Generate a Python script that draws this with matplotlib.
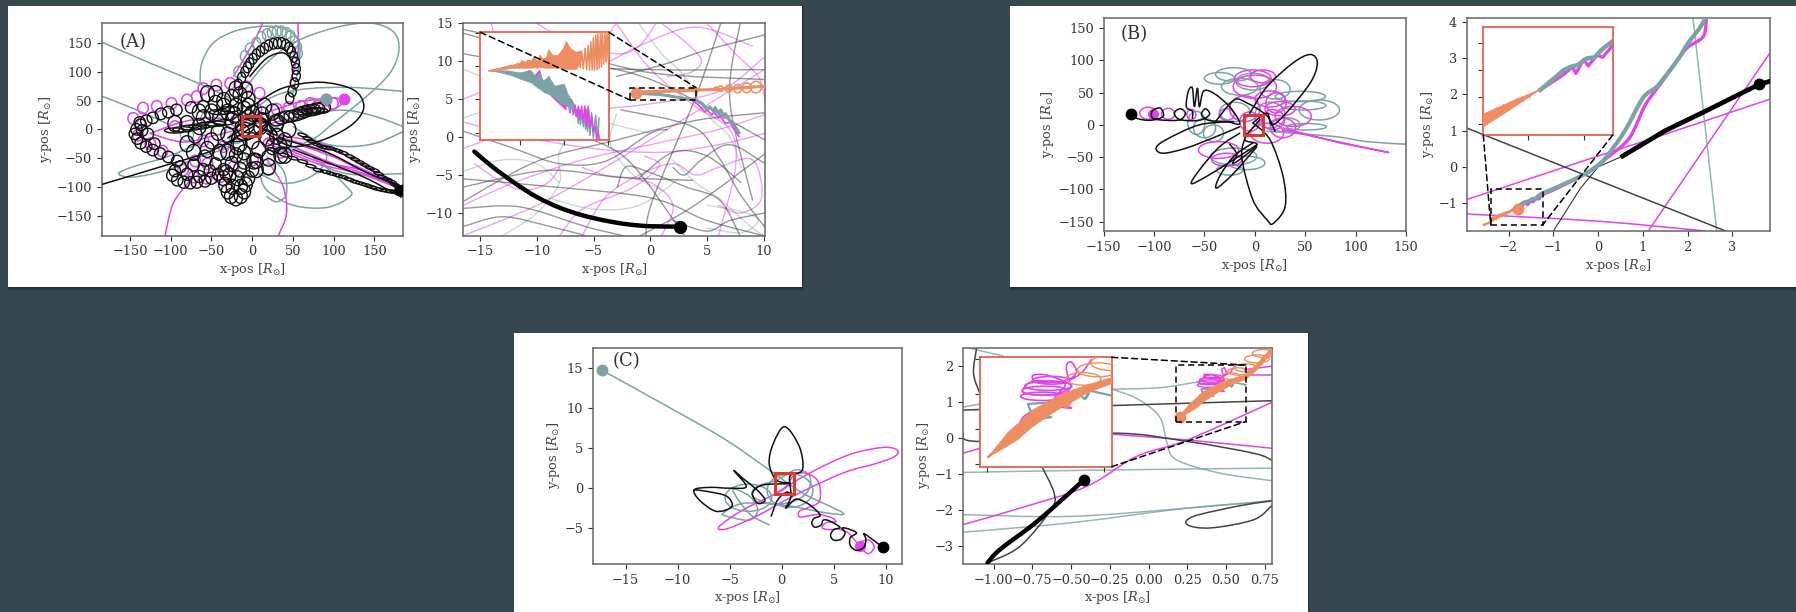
import matplotlib
matplotlib.use("Agg")
import matplotlib.pyplot as plt
from matplotlib.patches import Ellipse, Rectangle, ConnectionPatch, PathPatch
from matplotlib.path import Path

plt.rcParams["font.family"] = ["DejaVu Serif"]
plt.rcParams["mathtext.fontset"] = "dejavuserif"
plt.rcParams["font.size"] = 9.3
plt.rcParams["text.color"] = "#333333"
plt.rcParams["xtick.labelcolor"] = "#333333"
plt.rcParams["ytick.labelcolor"] = "#333333"

W, H = 1796, 612
BG = "#37474f"
TEAL = "#7ba3a5"
MAG = "#e243ea"
ORG = "#ee8d62"
RED = "#d93a2b"
INSET_RED = "#e8604e"
DARK = "#111111"

# ---- panel A, left: loop chains (centre x, centre y), sizes per chain
a_arch_x = [-17, -13, -9, -6, -3, 1, 5, 10, 15, 20, 26, 31, 36, 41, 45, 48, 51, 53, 54, 54, 52, 49, 46]
a_arch_y = [78, 90, 100, 108, 115, 123, 130, 136, 141, 146, 149, 150, 150, 147, 142, 135, 126, 116, 105, 93, 80, 66, 54]
a_left_x = [-60, -75, -93, -103, -112, -122, -130, -137, -142, -144, -141, -137, -130, -122, -113, -103, -92, -138, -135, -128, -120]
a_left_y = [40, 38, 34, 30, 27, 20, 15, 8, 0, -8, -16, -24, -30, -36, -42, -48, -55, 12, -2, -8, -25]
a_low_x = [-95, -98, -92, -84, -76, -68, -58, -50, -42, -35, -60, -45, -88, -72, -80, -52, -65]
a_low_y = [-72, -80, -88, -92, -93, -92, -90, -85, -78, -70, -70, -60, -65, -62, -78, -72, -82]
a_bot_x = [-35, -33, -30, -26, -20, -14, -10, -8, -5, 0, 5, -15, -25, -20, -10, -32, -24, -14, -28, -18]
a_bot_y = [-85, -97, -108, -116, -120, -116, -108, -96, -85, -70, -55, -70, -60, -45, -40, -75, -100, -100, -80, -85]
a_right_x = [87, 80, 75, 70, 65, 60, 54, 48, 42, 36, 30]
a_right_y = [38, 36, 34, 33, 31, 28, 25, 23, 22, 19, 16]
a_mid_x = [-45, -35, -25, -15, -5, -50, -40, -30, -60, -20, -10, -25, -30, -50, -70, -65, -80, -95, -80, 25, 40, 30, 45, 12, 20, 35, -5, 0, -15, 10, 25, 40, -40, -55, -10, 5,
           -55, -45, -35, -20, -8, 15, -65, -5, 0, 12, 18, 30, -30, -18, 8, -42, -58, -72, -12, 2, 20, 34, -6, -22]
a_mid_y = [45, 50, 55, 60, 52, 30, 20, 30, 20, 40, 35, 15, -10, -20, -10, 5, -25, 10, 10, -30, -20, 10, 0, 25, -50, -45, 20, -20, -25, 5, 30, -45, -40, -35, -55, -70,
           62, 62, 40, 70, 68, 40, 30, 40, 28, 15, -15, -12, -40, -30, -35, -5, -50, -40, -5, -55, -65, -28, 8, 25]
a_flat_x = [-95, -85, -75, -65, -55, -45, -35, 62, 70, 76, 80, -40, -28]
a_flat_y = [-2, 0, 3, 5, 8, 10, 12, 30, 32, 33, 33, 30, 35]
a_band1_x = [62, 68, 73, 79, 85, 91, 97, 105, 112, 120, 126, 132, 138, 144, 150, 155, 160, 166, 171, 175, 179, 182]
a_band1_y = [-10, -16, -21, -26, -30, -32, -33, -37, -41, -47, -52, -57, -62, -67, -71, -77, -83, -87, -91, -96, -100, -103]
a_band2_x = [25, 40, 50, 62, 72, 81, 90, 97, 105, 112, 119, 126, 133, 140, 146, 152, 158, 165, 170, 175, 179, 183]
a_band2_y = [-35, -45, -50, -56, -64, -71, -74, -77, -80, -83, -87, -91, -94, -97, -100, -103, -105, -107, -108, -109, -110, -111]
a_tip_x = [175, 185, 185, 178]
a_tip_y = [-104, -97, -116, -114]
a_magloop_x = [-146, -134, -117, -99, -80, -68, -60, -44, -27, -7, 9, -85, -72, -56, -40, -23, 1, 71, 91, 99, 30, 45, 60, 80, -140, -125, -110, -70, -55, -35, 20, 35, -20, 5, -95, -60]
a_magloop_y = [19, 37, 40, 45, 51, 57, 71, 77, 80, 74, 63, -71, -83, -85, -83, -65, -53, 45, 51, 45, 35, 38, 40, 40, -10, -25, -38, -55, -60, -30, -25, -40, 15, 35, 5, -20]
a_tealloop_x = [-17, -9, -3, 5, 11, 18, 24, 30, 36, 42, 47, 52, 55, 56]
a_tealloop_y = [100, 127, 140, 150, 160, 165, 168, 170, 170, 167, 162, 153, 143, 132]
a_tealmid_x = [-30, -10, 20, 40, -55, -40, -20, 5, 30, 60, 75, -80, -15]
a_tealmid_y = [-40, -85, -70, -30, 20, 0, -15, 20, 10, 30, 44, -10, -50]

a_teal = [
    ([-185, -125, -64, -23], [152, 115, 79, 51]),
    ([-185, -142, -105], [58, 34, 10]),
    ([-64, -62, -48, -23, 9, 38, 56, 58, 50], [79, 115, 150, 170, 179, 176, 156, 121, 63]),
    ([-15, 13, 50, 99, 144, 173, 180, 169, 140, 99, 79, 54], [57, 109, 150, 176, 185, 170, 138, 98, 57, 10, -13, -30]),
    ([-23, 18, 58, 120, 185], [-1, 51, 69, 73, 66]),
    ([185, 152, 116, 79, 26], [5, 22, 33, 28, 5]),
    ([185, 152, 116, 83, 50], [-4, -24, -30, -22, 5]),
    ([-64, -105, -146, -164, -146, -105, -64, -23], [-24, -48, -65, -77, -83, -71, -48, -30]),
    ([34, 79, 116, 120, 91, 50, 18, 9], [-19, -53, -100, -117, -136, -132, -106, -77]),
    ([185, 120, 79], [-77, -78, -59]),
    ([18, 38, 42, 30, 18], [-48, -71, -112, -126, -117]),
    ([9, 38, 71, 91, 83], [-77, -94, -83, -53, -19]),
]
a_mag = [
    ([13, 1, -23], [185, 150, 92]),
    ([56, 56, 46], [185, 133, 80]),
    ([-107, -97, -76], [-185, -129, -88]),
    ([32, 42, 38, 18], [-185, -147, -100, -53]),
    ([18, 79, 132, 179, 132, 83, 18], [-24, -59, -77, -100, -59, -24, -7]),
    ([18, 79, 132, 179, 125, 83, 30], [-18, -55, -70, -98, -65, -35, -12]),
    ([50, 100, 140, 178, 140, 100, 60], [-30, -60, -78, -101, -72, -48, -28]),
    ([-125, -85, -45, -10, -45, -85, -125], [-7, 13, 20, 5, -10, -22, -7]),
    ([-15, 10, 40, 60, 100, 110, 90, 50, 10], [10, 25, 40, 48, 55, 45, 30, 20, 5]),
]
a_black = [
    ([-185, -105, -48, 1], [-96, -62, -36, 5]),
    ([-26, 5, 38, 83, 124, 137, 124, 91, 50, 18], [15, 45, 72, 82, 69, 40, 10, -16, -30, -7]),
    ([-3, 18, 38, 50], [92, 124, 133, 118]),
    ([-30, 10, 30, -10, -25, 5, 22, -5, -20, 12, 25], [-15, 15, -10, 12, -20, -12, 18, -18, 10, 20, -5]),
    ([50, 100, 140, 183], [-35, -62, -85, -118]),
    ([30, 70, 100, 140, 183], [-15, -30, -45, -75, -100]),
]

# ---- panel A, right: faint orbits behind the zoom
a2_grey = [
    ([-16.5, -8, 0, 10], [14.2, 11.5, 8.5, 7.6]),
    ([-16.5, -10, 0, 10], [11, 9.5, 8.9, 8.9]),
    ([-16.5, -9.2, -2.7, 3.7], [-6.6, -4.4, -5.3, -5.7]),
    ([-16.5, -11.5, -5.7, -2.4], [-9.4, -9.2, -11.8, -13]),
    ([-16.5, -13, -8.8, -5.7], [-11.8, -10.5, -11.8, -13]),
    ([-2.9, -2.1, 0.2, 3.2, 6.1, 7.9], [-6.6, -3.9, -4.8, -6.6, -8.3, -13]),
    ([6.2, 4, 0.2, -0.4], [15, 5.3, -8.3, -13]),
    ([7.9, 7, 9], [15, 4.9, -8.3]),
    ([-16.5, -10, -3, 4, 10], [-8.5, -3.2, -0.4, 2.2, 3.2]),
    ([-16.5, -8.6, 0.2, 10.1], [13.7, 10.6, 7.5, -0.4]),
    ([-2.6, 3.7, 6, 7.9, 10.1], [3.6, 1.4, -2.6, -7.5, -11.9]),
    ([-0.9, 3.7, 10.1], [-13, -9.2, -2.2]),
    ([-16.5, -12, -8, -4, 0, 1.5], [0.8, -1.5, -3.5, -3.2, 0.5, 1]),
    ([-1, 2, 5, 8], [-5.4, -2, -2.5, -6]),
    ([-12, -7, -2, 3], [6.5, 1, -3, -13]),
    ([2, 5, 7, 10.1], [-11, -12.4, -11, -10]),
    ([-16.5, -9, 0, 5, 10], [-5.5, -6.5, -8, -11, -13]),
    ([-3, 1, 5, 10.1], [8, 9.5, 11.5, 13.5]),
    ([2, 3, 4.5, 7, 10.1], [-4, -5, -3, -1, -3.5]),
]
a2_mag = [
    ([-16.5, -8, 0, 6, 10], [-1.5, 2.8, 4.4, 6, 10.5]),
    ([-16.5, -12, -6, 0, 6, 10.1], [-9, -6, -3, -1, 1, 3]),
    ([-14, -13, -10, -6, -1, 4, 9], [15, 10, 6, 8, 12, 14.5, 12]),
    ([-6, -4, -1, 2, 4, 6, 9, 9.8, 8, 6], [-13, -8, -5, -3.5, -5, -4, -3, -8, -10, -9]),
    ([-16.5, -10, -4, 2, 8, 10.1], [-13, -9, -4, 1.5, 7, 9]),
    ([-3, 0, 4, 7, 7.5, 6], [15, 9, 4, 1, -4, -13]),
    ([-15.5, -13, -11, -9, -8], [-3.5, -6, -7, -6, -4]),
    ([-10, -7, -3, -1, 0.5], [15, 12.5, 11, 12, 15]),
    ([1, 2, 0, -4, -6], [-13, -9, -6, -5, -4]),
    ([-16.5, -12, -8, -6, -4, -3], [5, 7.5, 8, 10, 13, 15]),
    ([-16.5, -11, -5, 1, 6, 10.1], [2, 0, -1.5, -2, -1, 0.5]),
    ([1, 3.5, 4.5, 3.5, 1.5], [15, 12, 10, 8.5, 8]),
    ([5, 7.5, 9.5, 10.1], [15, 11, 8, 5]),
    ([-8, -6, -2, 0, 0.8, -0.5], [-13, -9.5, -7, -5, -3.5, -2.5]),
]
a2_teal = [
    ([-16.5, -10, -4, 0], [9, 5, 2, 0.5]),
    ([-13, -10, -8, -8, -6], [-13, -10, -6, -2, 3]),
    ([2, 4, 6, 7.5, 9, 10], [-3, -6, -8, -10, -12, -13]),
    ([-1, 1, 3, 5, 7, 8], [15, 11, 8, 3, 0, -4]),
    ([-16.5, -14, -10, -6], [2.5, 4, 8, 12.5]),
    ([5, 8, 9.5, 8, 5], [-9, -9.8, -11, -12.6, -12]),
    ([-9, -5, -1, 2.5], [-8, -9.5, -9, -5.5]),
    ([-3, -3.5, -1.5, 1], [3, -1, -5, -7]),
    ([-16.5, -13, -10, -8], [-4.5, -3, -3.5, -6]),
]
a2_black_x = [-15.5, -14, -12, -10, -8, -6, -4, -2, 0, 2.65]
a2_black_y = [-1.9, -3.8, -6, -7.9, -9.3, -10.3, -11, -11.5, -11.75, -11.8]
a2_org_x = [-1.39, -0.83, -0.37, -0.22, -0.10, 0.0, 0.11, 0.23, 0.38, 0.53, 0.64, 0.81, 0.93, 1.06, 1.21, 1.32, 1.47, 1.74, 1.97, 2.12, 2.27, 2.42, 2.65, 2.74, 2.80, 2.88, 2.96, 3.03, 3.10, 3.16, 3.22, 3.28, 3.33, 3.39, 3.44, 3.50, 3.53, 3.60, 3.65, 3.70, 3.74, 3.80, 3.86, 3.90, 3.95, 4.00, 4.04]
a2_org_y = [5.93, 5.97, 6.01, 5.97, 6.04, 5.97, 6.08, 5.97, 6.08, 5.98, 6.13, 5.97, 6.16, 5.99, 5.98, 6.24, 6.0, 5.97, 6.23, 6.36, 6.21, 5.97, 6.16, 5.98, 6.23, 5.96, 6.27, 5.95, 6.31, 5.94, 6.37, 5.94, 6.43, 5.94, 6.47, 5.95, 6.51, 5.97, 6.51, 5.99, 6.51, 6.03, 6.51, 6.06, 6.51, 6.09, 6.51]
a2_orgfill_x = [-1.39, -0.37, 0.0, 0.11, 0.28, 0.38, 0.53, 0.64, 0.81, 0.93, 1.06, 1.21, 1.32, 1.52, 1.74, 1.97, 2.12, 2.32, 2.57, 2.80, 2.80, 2.57, 2.20, 1.82, 1.52, 1.21, 0.91, 0.53, 0.08, -0.37, -0.98]
a2_orgfill_y = [5.93, 6.01, 6.04, 6.08, 6.06, 6.09, 6.08, 6.13, 6.08, 6.16, 6.11, 6.13, 6.24, 6.16, 6.16, 6.26, 6.36, 6.26, 6.21, 6.23, 6.08, 5.95, 5.95, 5.97, 5.97, 5.97, 5.98, 5.97, 5.97, 5.97, 5.93]
a2_teal_x = [2.42, 2.50, 2.53, 2.60, 2.65, 2.70, 2.75, 2.80, 2.88, 2.93, 2.98, 3.03, 3.07, 3.12, 3.18, 3.25, 3.33, 3.44, 3.53, 3.59]
a2_teal_y = [5.45, 5.32, 5.25, 5.35, 5.14, 5.35, 5.12, 5.35, 5.09, 5.35, 5.05, 5.35, 5.02, 5.33, 4.96, 5.30, 4.92, 5.26, 4.89, 5.22]
a2_tealfill_x = [-1.39, -0.53, 0.0, 0.53, 0.76, 0.91, 1.06, 1.34, 1.59, 2.02, 2.2, 2.42, 2.42, 1.82, 1.52, 1.14, 0.84, 0.53, 0.08, -0.37, -0.98]
a2_tealfill_y = [5.93, 5.93, 5.90, 5.93, 5.83, 5.90, 5.78, 5.83, 5.70, 5.73, 5.57, 5.45, 5.35, 5.45, 5.55, 5.60, 5.67, 5.75, 5.80, 5.86, 5.91]
a2_mag_x = [2.08, 2.17, 2.27, 2.35, 2.42, 2.50, 2.58, 2.65, 2.72, 2.80, 2.88, 2.95, 3.03, 3.10, 3.18, 3.26, 3.33, 3.41, 3.48, 3.55, 3.63]
a2_mag_y = [5.35, 5.57, 5.30, 5.50, 5.27, 5.42, 5.24, 5.40, 5.20, 5.40, 5.15, 5.40, 5.10, 5.40, 5.07, 5.25, 5.02, 5.10, 4.91, 5.0, 4.89]
a2_magfill_x = [-0.37, 0.08, 0.46, 0.61, 0.91, 1.06, 1.34, 1.52, 1.82, 2.08, 2.08, 1.74, 1.37, 0.99, 0.61, 0.23, -0.37]
a2_magfill_y = [5.90, 5.88, 5.94, 5.83, 5.94, 5.75, 5.85, 5.62, 5.60, 5.42, 5.35, 5.45, 5.57, 5.69, 5.75, 5.80, 5.88]
a2_orgtail_x = [4.04, 6, 8, 10]
a2_orgtail_y = [6.2, 6.3, 6.5, 6.7]
a2_orgloop_x = [5.8, 6.2, 6.9, 7.7, 8.5, 9.3]
a2_orgloop_y = [6.35, 6.4, 6.4, 6.4, 6.5, 6.6]
a2_orgloop_w = [0.4, 0.5, 0.6, 0.7, 0.8, 1.0]
a2_orgloop_h = [0.5, 0.7, 0.9, 1.1, 1.3, 1.5]
a2_tealtail_x = [-1.3, 1, 3, 4.04, 4.6, 5.0, 5.2, 5.6, 5.7, 6.0, 6.2, 6.5, 6.6, 7, 7.4, 7.8]
a2_tealtail_y = [5.8, 5.6, 5.1, 4.89, 4.4, 3.6, 4.0, 3.4, 3.9, 3.1, 3.6, 2.6, 3.1, 2.2, 1.6, 0.6]
a2_magtail_x = [3.59, 4.2, 4.8, 5, 5.4, 5.6, 6, 6.1, 6.6, 7, 7.3, 7.8]
a2_magtail_y = [4.89, 4.3, 3.3, 3.6, 2.9, 3.3, 2.5, 2.9, 1.8, 2, 1.2, 0.1]

# ---- panel B, left
b_black = [
    ([-123, -117, -104, -91, -94, -102, -101, -88, -74, -69, -74, -80, -74, -55, -45, -49, -53, -46, -28, -15, -25, -41, -51, -55, -57, -60, -62, -66, -68, -62, -62],
     [17, 10, 7, 13, 26, 21, 10, 7, 8, 18, 25, 18, 8, 7, 16, 25, 16, 7, 5, 2, 28, 49, 52, 28, 57, 28, 57, 52, 28, 21, 10]),
    ([-21, -55, -88, -98, -91, -68, -38, -15], [5, 0, -23, -36, -44, -36, -18, -3]),
    ([2, -21, -48, -63, -55, -35, -15], [-31, -54, -80, -91, -70, -34, -13]),
    ([2, -21, -38, -35, -21, -2], [-34, -75, -98, -80, -49, -28]),
    ([-8, -13, -2, 12, 18, 30, 28, 15, -2], [-13, -49, -116, -147, -153, -127, -80, -23, 3]),
    ([-5, 12, 38, 55, 62, 55, 31, 17, 12, -2], [18, 59, 96, 109, 96, 65, 18, 0, 18, 3]),
    ([-40, -21, -8, 12, 20], [3, 38, 34, 14, -10]),
    ([-25, -18, -22, -10, 2, -10, 5], [-30, -45, -60, -48, -30, -22, 8]),
]
b_mag_x = [-106, -86, -63, -28, -36, -28, -2, 0, 21, 38, 18, 12, -5, 25, 15, 28, -10, 8]
b_mag_y = [18, 17, 16, 16, -39, -54, 72, 59, 34, 13, 8, -13, 5, 25, 40, -5, 25, 75]
b_mag_w = [16.5, 13, 9, 15, 40, 30, 36, 43, 20, 36, 23, 33, 20, 30, 30, 25, 30, 25]
b_mag_h = [18.6, 17, 16, 18, 26, 20, 26, 36, 31, 31, 31, 31, 30, 22, 25, 30, 40, 20]
b_magline_x = [28, 133, 84, 28]
b_magline_y = [-8, -43, -28, -5]
b_teal_x = [-21, -2, -15, 45, 64, 51, -58, -41, -21, -8, -25, -35, 15, 30, -20, -50, 20, 48]
b_teal_y = [78, 67, 59, 44, 23, -3, 3, -13, -49, -59, -70, 72, 15, 0, 20, -5, 55, 30]
b_teal_w = [36, 33, 36, 50, 40, 40, 17, 20, 46, 36, 26, 30, 30, 30, 30, 22, 30, 45]
b_teal_h = [21, 26, 26, 16, 31, 10, 36, 26, 26, 21, 16, 18, 40, 22, 30, 30, 30, 14]
b_tealline_x = [12, 78, 111, 150]
b_tealline_y = [-10, -18, -26, -30]

# ---- panel B, right
b2_org_x = [-2.55, -2.394, -2.394, -2.34, -2.34, -2.28, -2.28, -2.22, -2.22, -2.16, -2.16, -2.10, -2.10, -2.04, -2.04, -1.98, -1.98, -1.89]
b2_org_y = [-1.6, -1.52, -1.42, -1.48, -1.39, -1.44, -1.355, -1.40, -1.325, -1.365, -1.30, -1.325, -1.27, -1.29, -1.25, -1.25, -1.225, -1.185]
b2_orgfill_x = [-2.40, -2.16, -1.89, -2.10, -2.40]
b2_orgfill_y = [-1.53, -1.37, -1.18, -1.27, -1.41]
b2_teal_x = [-1.89, -1.77, -1.68, -1.62, -1.55, -1.47, -1.40, -1.34, -1.24, -0.9, -0.3, 0.0, 0.2, 0.6, 1.0, 1.3, 1.5, 1.8, 2.0, 2.25, 2.4]
b2_teal_y = [-1.185, -1.08, -1.0, -0.97, -0.95, -0.89, -0.88, -0.81, -0.73, -0.55, -0.2, 0.05, 0.3, 1.0, 1.9, 2.2, 2.5, 3.0, 3.4, 3.8, 4.11]
b2_mag_x = [-1.89, -1.75, -1.68, -1.60, -1.57, -1.5, -1.46, -1.38, -1.33, -1.24, -0.9, -0.3, 0.2, 0.7, 1.05, 1.4, 1.75, 2.0, 2.35, 2.42]
b2_mag_y = [-1.185, -1.09, -1.04, -0.97, -1.03, -0.90, -0.96, -0.86, -0.88, -0.77, -0.58, -0.2, 0.25, 0.8, 1.7, 2.3, 2.9, 3.3, 3.6, 4.11]
b2_black_x = [0.55, 1.5, 2.5, 3.6, 3.8]
b2_black_y = [0.3, 1.0, 1.6, 2.28, 2.35]
b2_thin_x = [-1, -0.4, 0, 0.55]
b2_thin_y = [-1.77, -0.6, 0, 0.3]
b2_greyline_x = [-2.93, 2.85]
b2_greyline_y = [1.07, -1.77]
b2_mag_lines = [
    ([-2.93, 0, 1.3, 3.84], [-0.9, 0.3, 0.82, 1.87]),
    ([1.12, 3.84], [-1.77, 3.15]),
    ([-2.93, 0, 2.4], [-1.3, -1.5, -1.77]),
]
b2_teal_line_x = [2.12, 2.65]
b2_teal_line_y = [4.11, -1.77]

# ---- panel C, left
c_teal_x = [-17.3, -10.1, -5.3, -1.2, 2, 5.9, 4.3, 1.1, -1.2, -2.8, -2.4, -0.5, 1.4, 2.7, 2.4, 0.4, -3.7, -5.6, -5.3, -3.1, -2.3, -3.1, -4.7, -3.1, -1.2]
c_teal_y = [14.8, 9.6, 6, 2.3, -0.6, -3.1, -3.1, -2.3, -1.9, -1, 0.2, 1, 2.3, 1.5, -0.6, -1.9, -1.9, -3.1, -3.5, -4, -2.7, -1, -0.2, -3.2, -4.6]
c_black_x = [9.7, 8.5, 7.9, 8.1, 7.9, 7.2, 6.6, 6.6, 7.2, 6.4, 5.8, 6.1, 5.7, 5, 4.7, 5, 5.6, 4.6, 4, 3.8, 3.2, 2.9, 3.1, 3.7, 3, 2.2, 1.3, 0.4, 0.9, 0.8, 2, 1.7, 0.3, -0.8, -1.2, -0.5, 0.8, -1.8, -2.8, -2.3, -1.6, -2.3, -3.7, -4.6, -3.4, -5, -6.9, -8.4, -7.9, -6.3, -4.8, -5.3, -7.2, -8.4]
c_black_y = [-7.4, -6.2, -5.7, -6.4, -7.4, -7.8, -7.2, -6.2, -5.6, -5.1, -5, -5.6, -6.4, -6.5, -5.9, -5.2, -4.9, -4.1, -4, -4.6, -4.9, -4.4, -3.8, -3.4, -2.4, -1.7, -1.4, -2.5, -1, 1.5, 2.3, 5.2, 7.7, 5.6, 3.1, 1, 0.6, 0.4, -0.6, -1.9, -1.5, -0.3, 1.2, 2.2, 0.2, 0, 0.1, -0.2, -1.5, -2.9, -2.3, -1, -0.4, -0.2]
c_black2_x = [-1, -0.4, 0.5, 1]
c_black2_y = [-3.5, -1.5, -0.5, -1]
c_mag_x = [7.5, 8.3, 8.9, 8.4, 7.6, 7.3, 6.4, 5.4, 4.8, 3.9, 4.3, 5.2, 4.8, 3.6, 2.4, 1.7, 1.7, 2.6, 3.6, 3.7, 3.3, 2.2, 1.1, 0.1, -3.7, -6, -5.3, -2.4, 1.1, 5.9, 9.1, 10.9, 11.1, 9.7, 6.5, 2.7, -0.5]
c_mag_y = [-7.3, -8.2, -7.4, -6.5, -6.7, -6.9, -5.6, -5.1, -5.2, -5, -4.3, -4.2, -3.7, -3.3, -3.5, -3.6, -2.9, -2.4, -1.7, 0, 1.2, 1.9, 1.5, -0.2, -2.7, -4.8, -5.1, -3.5, -1, 1.9, 3.1, 4, 4.8, 5.1, 4.2, 1.9, -0.6]
c_tealloop_x = [-3.2, 0.8]
c_tealloop_y = [-1.2, -0.3]
c_tealloop_w = [4.5, 4.4]
c_tealloop_h = [3.4, 4.2]

# ---- panel C, right
c2_black_x = [-1.04, -0.96, -0.72, -0.42]
c2_black_y = [-3.46, -3.09, -2.31, -1.17]
c2_grey = [
    ([-1.11, -1.13, -1.09], [2.51, 1.8, 1.25]),
    ([-0.69, -0.61, -0.63, -0.83, -1.04], [-0.78, -1.52, -1.98, -3, -3.46]),
    ([-1.2, 0.8], [0.78, 1.04]),
    ([-1.2, -1.09, -0.24, 0.25, 0.68, 0.8], [0.14, -0.09, 0.14, -0.09, -0.42, -0.62]),
    ([0.8, 0.68, 0.4, 0.25, 0.29, 0.57, 0.8], [-1.85, -2.26, -2.49, -2.4, -2.17, -1.89, -1.73]),
]
c2_mag = [
    ([-0.24, 0.25, 0.8], [0.11, -0.05, -0.28]),
    ([-1.2, -1.09], [-0.42, -0.28]),
    ([-1.2, -0.83, -0.4, -0.08, 0.25, 0.8], [-2.4, -1.94, -1.34, -0.51, -0.05, 1.0]),
    ([0.62, 0.8], [1.75, 1.75]),
    ([0.62, 0.8], [1.9, 2.0]),
]
c2_teal = [
    ([-1.2, -0.4, 0.8], [-0.95, -0.89, -0.83]),
    ([-1.2, -0.51, 0.25, 0.8], [-2.12, -2.17, -1.94, -1.73]),
    ([-1.2, -0.51, 0.25, 0.8], [-2.61, -2.35, -1.94, -1.75]),
    ([-0.24, -0.08, 0.07, 0.12, 0.18, 0.46, 0.8], [1.36, 1.11, 0.6, -0.14, -0.6, -0.97, -1.18]),
    ([-1.2, -0.94], [2.54, 2.28]),
    ([-1.2, -1.09], [0.86, 0.95]),
    ([-0.24, 0.07, 0.33], [1.36, 1.4, 1.57]),
]
c2_org_x = [0.205, 0.26, 0.28, 0.30, 0.329, 0.34, 0.37, 0.40, 0.42, 0.455, 0.47, 0.51, 0.535, 0.56, 0.627, 0.7, 0.8]
c2_org_y = [0.60, 0.82, 0.80, 0.98, 1.07, 1.02, 1.25, 1.22, 1.34, 1.43, 1.30, 1.50, 1.57, 1.55, 1.69, 2.0, 2.49]
c2_orgfill_x = [0.205, 0.271, 0.363, 0.455, 0.535, 0.627, 0.70, 0.80, 0.80, 0.70, 0.627, 0.547, 0.50, 0.455, 0.403, 0.352, 0.306, 0.26, 0.205]
c2_orgfill_y = [0.60, 0.95, 1.29, 1.50, 1.62, 1.74, 2.03, 2.51, 2.41, 1.92, 1.65, 1.53, 1.41, 1.31, 1.17, 1.02, 0.85, 0.73, 0.60]
c2_orgloop_x = [0.53, 0.58, 0.63, 0.70, 0.74]
c2_orgloop_y = [1.72, 1.85, 1.95, 2.2, 2.35]
c2_orgloop_w = [0.12, 0.14, 0.15, 0.16, 0.14]
c2_orgloop_h = [0.18, 0.2, 0.22, 0.22, 0.22]
c2_magz_x = [0.205, 0.29, 0.306, 0.329, 0.403, 0.489, 0.43, 0.466, 0.363, 0.323, 0.34, 0.432, 0.489, 0.409, 0.357, 0.374, 0.466, 0.506, 0.489, 0.472, 0.483, 0.524, 0.558]
c2_magz_y = [0.60, 0.93, 1.02, 1.19, 1.33, 1.30, 1.42, 1.65, 1.69, 1.57, 1.50, 1.50, 1.62, 1.77, 1.77, 1.67, 1.69, 1.81, 1.96, 1.91, 1.72, 1.81, 2.0]
c2_magloop_x = [0.40, 0.41, 0.42, 0.39]
c2_magloop_y = [1.55, 1.62, 1.70, 1.47]
c2_magloop_w = [0.16, 0.16, 0.13, 0.15]
c2_magloop_h = [0.13, 0.13, 0.11, 0.12]
c2_tealz_x = [0.205, 0.30, 0.33, 0.42, 0.35, 0.34, 0.409, 0.47, 0.50, 0.535, 0.547, 0.535, 0.552, 0.627]
c2_tealz_y = [0.60, 1.0, 1.12, 1.17, 1.25, 1.36, 1.38, 1.48, 1.55, 1.43, 1.50, 1.43, 1.55, 1.48]

# ---- axis settings
a_ticks = [-150, -100, -50, 0, 50, 100, 150]
a2_xticks = [-15, -10, -5, 0, 5, 10]
a2_yticks = [-10, -5, 0, 5, 10, 15]
b_xticks = [-150, -100, -50, 0, 50, 100, 150]
b2_xticks = [-2, -1, 0, 1, 2, 3]
b2_yticks = [-1, 0, 1, 2, 3, 4]
c_xticks = [-15, -10, -5, 0, 5, 10]
c_yticks = [-5, 0, 5, 10, 15]
c2_xticks = [-1.0, -0.75, -0.5, -0.25, 0.0, 0.25, 0.5, 0.75]
c2_yticks = [-3, -2, -1, 0, 1, 2]
xlabel = r"x-pos [$R_{\odot}$]"
ylabel = r"y-pos [$R_{\odot}$]"


def box(x0, y0, x1, y1):
    # pixel box, y measured from the top of the picture
    return [x0 / W, 1 - y1 / H, (x1 - x0) / W, (y1 - y0) / H]


def card(fig, x0, y0, x1, y1):
    for off, alpha in [(4, 0.12), (2, 0.2)]:
        fig.add_artist(Rectangle((x0 / W, 1 - (y1 + off) / H), (x1 - x0 + off * 0.6) / W, (y1 - y0 + off) / H,
                                 transform=fig.transFigure, fc="black", ec="none", alpha=alpha, zorder=-3))
    fig.add_artist(Rectangle((x0 / W, 1 - y1 / H), (x1 - x0) / W, (y1 - y0) / H,
                             transform=fig.transFigure, fc="white", ec="none", zorder=-2))


def style(ax, xlim, ylim, xticks, yticks):
    ax.set_xlim(*xlim)
    ax.set_ylim(*ylim)
    ax.set_xticks(xticks)
    ax.set_yticks(yticks)
    ax.set_xlabel(xlabel, labelpad=2, color="#444444")
    ax.set_ylabel(ylabel, labelpad=2, color="#444444")
    ax.tick_params(length=3.5, width=0.8, color="#333333", pad=3.5)
    for s in ax.spines.values():
        s.set_color("#666666")
        s.set_linewidth(1.1)


def curve(ax, xs, ys, color, lw=1.0, alpha=1, z=1.5):
    # smooth orbit through the read points, drawn as a bezier path
    n = len(xs)
    if n < 3:
        ax.plot(xs, ys, color=color, lw=lw, alpha=alpha, zorder=z)
        return
    verts = [(xs[0], ys[0])]
    codes = [Path.MOVETO]
    for i in range(n - 1):
        a = max(i - 1, 0)
        b = min(i + 2, n - 1)
        verts.append((xs[i] + (xs[i + 1] - xs[a]) / 6, ys[i] + (ys[i + 1] - ys[a]) / 6))
        verts.append((xs[i + 1] - (xs[b] - xs[i]) / 6, ys[i + 1] - (ys[b] - ys[i]) / 6))
        verts.append((xs[i + 1], ys[i + 1]))
        codes += [Path.CURVE4] * 3
    ax.add_patch(PathPatch(Path(verts, codes), fc="none", ec=color, lw=lw, alpha=alpha, zorder=z, capstyle="round"))


def loops(ax, xs, ys, w, h, color, lw=1.0, angle=0, alpha=1, z=2):
    ws = w if isinstance(w, list) else [w] * len(xs)
    hs = h if isinstance(h, list) else [h] * len(xs)
    for x, y, a, b in zip(xs, ys, ws, hs):
        ax.add_patch(Ellipse((x, y), a, b, angle=angle, fc="none", ec=color, lw=lw, alpha=alpha, zorder=z))


def lines(ax, group, color, lw=1.0, alpha=1, z=1.5):
    for xs, ys in group:
        curve(ax, xs, ys, color, lw, alpha, z)


def red_square(ax, x0, y0, x1, y1):
    ax.add_patch(Rectangle((x0, y0), x1 - x0, y1 - y0, fc="none", ec=RED, lw=2.2, zorder=6))


def make_inset(fig, ax, pos, xlim, ylim, xticks, yticks, corners):
    ins = fig.add_axes(box(*pos), zorder=5)
    ins.set_xlim(*xlim)
    ins.set_ylim(*ylim)
    ins.set_xticks(xticks)
    ins.set_yticks(yticks)
    ins.set_xticklabels([])
    ins.set_yticklabels([])
    ins.tick_params(length=3.5, width=0.8, color="#333333")
    for s in ins.spines.values():
        s.set_color(INSET_RED)
        s.set_linewidth(1.3)
    ax.add_patch(Rectangle((xlim[0], ylim[0]), xlim[1] - xlim[0], ylim[1] - ylim[0],
                           fc="none", ec="black", ls=(0, (4, 2.5)), lw=1.1, zorder=6))
    for (ix, iy), (mx, my) in corners:
        con = ConnectionPatch((ix, iy), (mx, my), coordsA=ins.transData, coordsB=ax.transData,
                              color="black", ls=(0, (4, 2.5)), lw=1.1, zorder=8)
        fig.add_artist(con)
    return ins


fig = plt.figure(figsize=(W / 100, H / 100), dpi=100, facecolor=BG)
card(fig, 8, 6, 802, 287)
card(fig, 1010, 6, 1800, 287)
card(fig, 514, 333, 1308, 620)

# ---------- A left
ax = fig.add_axes(box(101.7, 23, 403, 235.7))
style(ax, (-184.7, 185), (-185, 185), a_ticks, a_ticks)
lines(ax, a_teal, TEAL, 1.1)
lines(ax, a_mag, MAG, 1.1)
loops(ax, a_tealloop_x, a_tealloop_y, 11, 20, TEAL, 1.0)
loops(ax, a_tealmid_x, a_tealmid_y, 16, 20, TEAL, 0.9)
loops(ax, a_magloop_x, a_magloop_y, 13, 20, MAG, 1.1)
lines(ax, a_black, DARK, 1.1, z=3)
loops(ax, a_arch_x, a_arch_y, 10, 19, DARK, 1.0, z=3)
loops(ax, a_left_x, a_left_y, 14, 20, DARK, 1.0, z=3)
loops(ax, a_low_x, a_low_y, 14, 21, DARK, 1.0, z=3)
loops(ax, a_bot_x, a_bot_y, 16, 26, DARK, 1.0, z=3)
loops(ax, a_right_x, a_right_y, 18, 20, DARK, 1.0, z=3)
loops(ax, a_mid_x, a_mid_y, 17, 28, DARK, 1.0, z=3)
loops(ax, a_flat_x, a_flat_y, 25, 9, DARK, 1.0, z=3)
loops(ax, a_band1_x, a_band1_y, 13, 5, DARK, 1.0, angle=-25, z=3)
loops(ax, a_band2_x, a_band2_y, 13, 5, DARK, 1.0, angle=-20, z=3)
ax.fill(a_tip_x, a_tip_y, color="black", zorder=3)
ax.plot([91], [52], "o", color=TEAL, ms=7.5, zorder=4)
ax.plot([112], [52], "o", color=MAG, ms=7.5, zorder=4)
red_square(ax, -13, -11.6, 10, 22.7)
ax.text(-163, 151, "(A)", fontsize=13, va="center")

# ---------- A right
ax = fig.add_axes(box(463, 23, 765, 235.7))
style(ax, (-16.5, 10.1), (-13.0, 15.05), a2_xticks, a2_yticks)
lines(ax, a2_teal, TEAL, 1.0, alpha=0.4)
lines(ax, a2_mag, MAG, 1.0, alpha=0.5)
lines(ax, a2_grey, "#444444", 1.0, alpha=0.55)
curve(ax, a2_black_x, a2_black_y, "black", 3.2, z=4)
ax.plot([a2_black_x[-1]], [a2_black_y[-1]], "o", color="black", ms=8.5, zorder=4)
ax.plot(a2_magtail_x, a2_magtail_y, color=MAG, lw=1.2, zorder=3)
ax.plot(a2_tealtail_x, a2_tealtail_y, color=TEAL, lw=2.2, zorder=3.2)
ax.plot(a2_orgtail_x, a2_orgtail_y, color=ORG, lw=2.2, zorder=3.5)
ax.plot([-1.39, 4.04], [5.93, 6.2], color=ORG, lw=2.5, zorder=3.5)
loops(ax, a2_orgloop_x, a2_orgloop_y, a2_orgloop_w, a2_orgloop_h, ORG, 1.1, z=3.5)
ax.plot([-1.25], [5.82], "o", color=ORG, ms=7.5, zorder=5)
ins = make_inset(fig, ax, (480.3, 32.3, 609, 140), (-1.78, 4.04), (4.89, 6.51), [0, 2, 4], [5.0, 5.5, 6.0, 6.5],
                 [((-1.78, 6.51), (-1.78, 4.89)), ((4.04, 6.51), (4.04, 6.51))])
ins.fill(a2_magfill_x, a2_magfill_y, color=MAG, lw=0.5, zorder=2)
ins.plot(a2_mag_x, a2_mag_y, color=MAG, lw=1.1, zorder=2.2)
ins.plot(a2_teal_x, a2_teal_y, color=TEAL, lw=1.1, zorder=2.1)
ins.fill(a2_tealfill_x, a2_tealfill_y, color=TEAL, lw=0.5, zorder=2.3)
ins.plot(a2_org_x, a2_org_y, color=ORG, lw=1.1, zorder=3)
ins.fill(a2_orgfill_x, a2_orgfill_y, color=ORG, lw=0.5, zorder=3)

# ---------- B left
ax = fig.add_axes(box(1103.7, 18, 1406, 231))
style(ax, (-150, 150), (-164.5, 165.5), b_xticks, b_xticks)
loops(ax, b_teal_x, b_teal_y, b_teal_w, b_teal_h, TEAL, 1.1)
curve(ax, b_tealline_x, b_tealline_y, TEAL, 1.1)
loops(ax, b_mag_x, b_mag_y, b_mag_w, b_mag_h, MAG, 1.1)
ax.plot(b_magline_x, b_magline_y, color=MAG, lw=1.1)
lines(ax, b_black, DARK, 1.1, z=3)
ax.plot([-101], [17], "o", color=MAG, ms=7, zorder=2.5)
ax.plot([-123], [17], "o", color="black", ms=7.5, zorder=4)
red_square(ax, -10.6, -16.5, 8, 14.5)
ax.text(-133, 141, "(B)", fontsize=13, va="center")

# ---------- B right
ax = fig.add_axes(box(1467, 18, 1770, 231))
style(ax, (-2.93, 3.84), (-1.77, 4.11), b2_xticks, b2_yticks)
ax.plot(b2_teal_line_x, b2_teal_line_y, color=TEAL, lw=1.1, alpha=0.8)
lines(ax, b2_mag_lines, MAG, 1.1)
ax.plot(b2_greyline_x, b2_greyline_y, color="#444444", lw=1.1)
ax.plot(b2_thin_x, b2_thin_y, color="#333333", lw=0.8)
curve(ax, b2_mag_x, b2_mag_y, MAG, 2.4, z=3)
curve(ax, b2_teal_x, b2_teal_y, TEAL, 3.0, z=3.2)
ax.plot(b2_org_x, b2_org_y, color=ORG, lw=1.8, zorder=3.5)
ax.plot([-1.89, -1.8], [-1.185, -1.15], color=ORG, lw=2.5, zorder=3.5)
ax.plot([-1.8], [-1.15], "o", color=ORG, ms=7.5, zorder=5)
ax.plot(b2_black_x, b2_black_y, color="black", lw=3.4, zorder=4)
ax.plot([3.6], [2.28], "o", color="black", ms=7.5, zorder=4)
ins = make_inset(fig, ax, (1483.3, 27.3, 1612.7, 135), (-2.40, -1.24), (-1.605, -0.6), [-2, -1.5], [-1.5, -1.25, -1, -0.75],
                 [((-2.40, -1.605), (-2.40, -1.605)), ((-1.24, -1.605), (-1.24, -1.605))])
ins.plot(b2_mag_x, b2_mag_y, color=MAG, lw=2.4)
ins.plot(b2_teal_x, b2_teal_y, color=TEAL, lw=3.2)
ins.fill(b2_orgfill_x, b2_orgfill_y, color=ORG, lw=0.5, zorder=3)
ins.plot(b2_org_x, b2_org_y, color=ORG, lw=1.2, zorder=3)

# ---------- C left
ax = fig.add_axes(box(593, 347.7, 902, 564))
style(ax, (-18.14, 11.57), (-9.5, 17.6), c_xticks, c_yticks)
curve(ax, c_teal_x, c_teal_y, TEAL, 1.1)
loops(ax, c_tealloop_x, c_tealloop_y, c_tealloop_w, c_tealloop_h, TEAL, 1.1)
curve(ax, c_mag_x, c_mag_y, MAG, 1.1)
curve(ax, c_black_x, c_black_y, DARK, 1.1, z=3)
curve(ax, c_black2_x, c_black2_y, DARK, 1.1, z=3)
ax.plot([-17.3], [14.8], "o", color=TEAL, ms=7.5, zorder=4)
ax.plot([7.5], [-7.3], "o", color=MAG, ms=7, zorder=2.5)
ax.plot([9.7], [-7.4], "o", color="black", ms=7.5, zorder=4)
red_square(ax, -0.67, -0.7, 1.15, 1.9)
ax.text(-16.3, 15.9, "(C)", fontsize=13, va="center")

# ---------- C right
ax = fig.add_axes(box(963, 347.7, 1272, 564))
style(ax, (-1.198, 0.797), (-3.49, 2.51), c2_xticks, c2_yticks)
lines(ax, c2_teal, TEAL, 1.1, alpha=0.8)
lines(ax, c2_mag, MAG, 1.1)
lines(ax, c2_grey, "#444444", 1.1)
curve(ax, c2_black_x, c2_black_y, "black", 3.2, z=4)
ax.plot([c2_black_x[-1]], [c2_black_y[-1]], "o", color="black", ms=7.5, zorder=4)
ax.plot(c2_magz_x, c2_magz_y, color=MAG, lw=1.1, zorder=3)
loops(ax, c2_magloop_x, c2_magloop_y, c2_magloop_w, c2_magloop_h, MAG, 1.0, z=3)
ax.plot(c2_tealz_x, c2_tealz_y, color=TEAL, lw=1.3, zorder=3.2)
ax.fill(c2_orgfill_x, c2_orgfill_y, color=ORG, lw=1.5, zorder=3.5)
loops(ax, c2_orgloop_x, c2_orgloop_y, c2_orgloop_w, c2_orgloop_h, ORG, 1.0, z=3.5)
ax.plot([0.205], [0.6], "o", color=ORG, ms=7.5, zorder=5)
ins = make_inset(fig, ax, (980.3, 357.3, 1111.7, 466.7), (0.177, 0.627), (0.46, 2.03), [0.2, 0.6], [0.5, 1.0, 1.5, 2.0],
                 [((0.627, 2.03), (0.627, 2.03)), ((0.627, 0.46), (0.627, 0.46))])
curve(ins, c2_magz_x, c2_magz_y, MAG, 1.2, z=2)
loops(ins, c2_magloop_x, c2_magloop_y, c2_magloop_w, c2_magloop_h, MAG, 1.2, z=2)
ins.plot(c2_tealz_x, c2_tealz_y, color=TEAL, lw=1.6, zorder=2.5)
ins.fill(c2_orgfill_x, c2_orgfill_y, color=ORG, lw=0.5, zorder=3)
ins.plot(c2_org_x, c2_org_y, color=ORG, lw=1.4, zorder=3)
loops(ins, c2_orgloop_x, c2_orgloop_y, c2_orgloop_w, c2_orgloop_h, ORG, 1.0, z=3)

fig.savefig("out.png", dpi=100, facecolor=BG)
